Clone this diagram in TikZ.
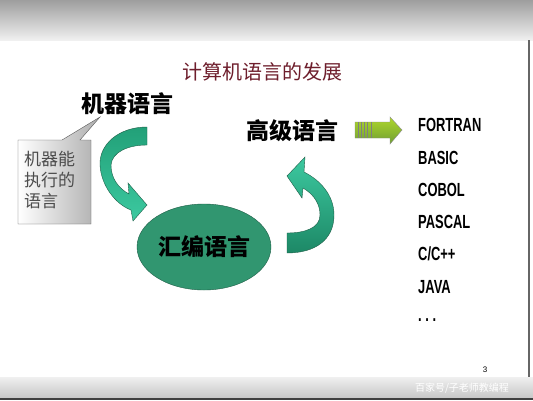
\documentclass[tikz,border=0pt]{standalone}
\usepackage{fontspec}
\setmainfont{Liberation Sans}
\newfontfamily\cjk{Noto Sans CJK SC}
\usetikzlibrary{positioning,shapes.geometric}

\definecolor{titulo}{HTML}{6E1E2C}
\definecolor{verdeosc}{HTML}{319670}
\definecolor{verdeborde}{HTML}{1E5E47}
\definecolor{verdeclaro}{HTML}{3CC9A0}
\definecolor{verdemed}{HTML}{22A078}
\definecolor{lima}{HTML}{8CC63F}

\tikzset{
	lenguaje/.style={font=\cjk\bfseries\fontsize{23}{23}\selectfont, inner sep=0pt},
	listado/.style={font=\bfseries\fontsize{19}{19}\selectfont, anchor=west, inner sep=0pt},
}

\begin{document}
\begin{tikzpicture}[x=1pt, y=-1pt]
			% Fondo de la diapositiva
				\useasboundingbox (0,0) rectangle (533,400);
				\fill[white] (0,0) rectangle (533,400);
				\shade[top color=black!38, bottom color=black!6] (0,0) rectangle (533,40);
				\shade[top color=black!6, bottom color=black!22] (0,377) rectangle (533,398);
				\fill[black!75] (0,398) rectangle (533,400);
				\draw[black!60, line width=1.2pt] (529,40) -- (529,377);
				\node (marca) at (462,388) {\cjk\fontsize{10}{10}\selectfont\color{white}百家号/子老师教编程};
				\node (pagina) at (485,370) {\fontsize{8}{8}\selectfont 3};
			
			% Titulo
				\node (titulo) at (262,72) {\cjk\fontsize{20}{20}\selectfont\color{titulo}计算机语言的发展};
			
			% Lenguajes
				\node[lenguaje] (maquina) at (127,104) {机器语言};
				\node[lenguaje] (alto) at (292,131) {高级语言};
				\node[lenguaje, ellipse, draw=verdeborde, fill=verdeosc, minimum width=134pt, minimum height=86pt] (ensamblador) at (204,247) {汇编语言};
			
			% Nota
				\shade[left color=white, right color=black!32, draw=black!65] (18,140) -- (62,140) -- (100,117) -- (80,140) -- (91,140) -- (91,224) -- (18,224) -- cycle;
				\node[anchor=north west, align=left, inner sep=0pt, text=black!70, font=\cjk\fontsize{17}{21}\selectfont] (nota) at (24,151) {机器能\\执行的\\语言};
			
			% Flechas curvas
				\shade[top color=verdemed, bottom color=verdeclaro, draw=verdeborde] (147,127) .. controls (118,127) and (99,145) .. (100,165) .. controls (101,185) and (115,204) .. (131,210) -- (133,221) -- (147,205) -- (128,183) -- (129,194) .. controls (118,188) and (111,178) .. (111,165) .. controls (112,152) and (128,145) .. (147,145) -- cycle;
				\shade[top color=verdeclaro, bottom color=verdemed!85!black, draw=verdeborde] (287,253) .. controls (315,253) and (334,240) .. (334,215) .. controls (334,195) and (320,180) .. (304,172) -- (305,157) -- (287,176) -- (302,198) -- (303,188) .. controls (315,195) and (320,205) .. (320,215) .. controls (320,228) and (305,233) .. (287,233) -- cycle;
			
			% Flecha hacia la lista
				\shade[top color=lima!70!yellow, bottom color=lima!80!black, draw=black!45] (355,122) -- (390,122) -- (390,117) -- (402,130) -- (390,144) -- (390,138) -- (355,138) -- cycle;
				\draw[black!50] (358,122) -- (358,138) (361,122) -- (361,138) (364,122) -- (364,138) (367,122) -- (367,138) (371,122) -- (371,138);
			
			% Lista de lenguajes
				\node[listado] (fortran) at (418,125) {\scalebox{0.68}[1]{FORTRAN}};
				\node[listado] (basic) at (418,158) {\scalebox{0.68}[1]{BASIC}};
				\node[listado] (cobol) at (418,190) {\scalebox{0.68}[1]{COBOL}};
				\node[listado] (pascal) at (418,222) {\scalebox{0.68}[1]{PASCAL}};
				\node[listado] (cpp) at (418,254) {\scalebox{0.68}[1]{C/C++}};
				\node[listado] (java) at (418,287) {\scalebox{0.68}[1]{JAVA}};
				\node[listado] (etc) at (418,320) {\scalebox{0.68}[1]{.\ .\ .}};
		\end{tikzpicture}
\end{document}
